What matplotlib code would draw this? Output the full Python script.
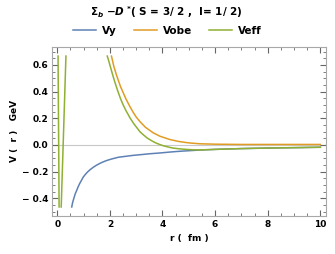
import numpy as np
import matplotlib
matplotlib.use('Agg')
import matplotlib.pyplot as plt
from matplotlib.ticker import MultipleLocator

# values (r in fm, V in GeV)
r_vy = [0.55, 0.58, 0.62, 0.68, 0.74, 0.80, 0.85, 0.92, 0.99, 1.07, 1.15, 1.25,
        1.37, 1.48, 1.6, 1.73, 1.87, 2.05, 2.32, 2.6, 2.88, 3.2, 3.5, 3.9,
        4.28, 4.6, 5.0, 5.42, 6.0, 7.0, 8.0, 9.0, 10.0]
v_vy = [-0.465, -0.435, -0.407, -0.368, -0.34, -0.311, -0.29, -0.265, -0.24, -0.22,
        -0.203, -0.185, -0.167, -0.153, -0.14, -0.128, -0.117, -0.106, -0.092,
        -0.085, -0.078, -0.072, -0.066, -0.06, -0.053, -0.048, -0.043, -0.038,
        -0.033, -0.027, -0.023, -0.020, -0.017]

r_vobe = [2.06, 2.15, 2.25, 2.4, 2.6, 2.75, 2.88, 3.0, 3.14, 3.35, 3.64, 3.9,
          4.28, 4.6, 4.91, 5.1, 5.42, 6.0, 7.0, 8.0, 9.0, 10.0]
v_vobe = [0.667, 0.59, 0.525, 0.44, 0.35, 0.292, 0.247, 0.21, 0.176, 0.133,
          0.092, 0.066, 0.041, 0.027, 0.018, 0.014, 0.009, 0.006, 0.004, 0.004,
          0.004, 0.004]

# Veff : clipped branches near r=0 separated by gaps (nan)
r_veff = [0.03, 0.07, np.nan, 0.15, 0.33, np.nan,
          1.9, 1.95, 2.0, 2.05, 2.13, 2.2, 2.3, 2.4, 2.5, 2.6, 2.76, 2.9, 3.14,
          3.25, 3.4, 3.5, 3.64, 3.75, 3.9, 4.05, 4.28, 4.4, 4.6, 4.75, 4.91,
          5.15, 5.42, 6.0, 7.0, 8.0, 9.0, 10.0]
v_veff = [0.667, -0.465, np.nan, -0.465, 0.667, np.nan,
          0.667, 0.635, 0.60, 0.565, 0.51, 0.465, 0.405, 0.35, 0.303, 0.262, 0.205,
          0.162, 0.10, 0.08, 0.055, 0.042, 0.026, 0.015, 0.003, -0.007, -0.018,
          -0.023, -0.028, -0.031, -0.033, -0.036, -0.037, -0.033, -0.027,
          -0.023, -0.020, -0.017]

names = ['Vy', 'Vobe', 'Veff']
colors = ['#5E81B5', '#E19C24', '#8FB032']
ytick_vals = [-0.4, -0.2, 0.0, 0.2, 0.4, 0.6]
ytick_labels = ['\u2212 0.4', '\u2212 0.2', '0.0', '0.2', '0.4', '0.6']

plt.rcParams['font.family'] = ['DejaVu Sans']
plt.rcParams['font.weight'] = 'bold'

fig = plt.figure(figsize=(3.35, 2.54), dpi=100)
ax = fig.add_axes([0.156, 0.151, 0.816, 0.664])

ax.axhline(0, color='#c8c8c8', lw=0.8, zorder=0)
ax.plot(r_vy, v_vy, color=colors[0], lw=1.1, label=names[0], solid_joinstyle='round')
ax.plot(r_vobe, v_vobe, color=colors[1], lw=1.1, label=names[1], solid_joinstyle='round')
ax.plot(r_veff, v_veff, color=colors[2], lw=1.1, label=names[2], solid_joinstyle='round')

ax.set_xlim(-0.19, 10.2)
ax.set_ylim(-0.53, 0.735)
ax.set_xticks([0, 2, 4, 6, 8, 10])
ax.xaxis.set_minor_locator(MultipleLocator(0.5))
ax.set_yticks(ytick_vals)
ax.set_yticklabels(ytick_labels)
ax.yaxis.set_minor_locator(MultipleLocator(0.05))

ax.tick_params(which='both', direction='in', top=True, right=True,
               labelsize=6.5, pad=3)
ax.tick_params(which='major', length=4, width=0.8, color='#666666')
ax.tick_params(which='minor', length=2.2, width=0.7, color='#808080')
for lab in ax.get_xticklabels() + ax.get_yticklabels():
    lab.set_fontweight('bold')
for s in ax.spines.values():
    s.set_color('#a8a8a8')
    s.set_linewidth(0.8)

ax.set_xlabel('r (  fm )', fontsize=6.5, fontweight='bold', labelpad=4)
ax.set_ylabel('V (  r )   GeV', fontsize=6.5, fontweight='bold', labelpad=2)

fig.text(0.495, 0.952,
         r'$\mathbf{\Sigma}_{\mathbfit{b}}\ \mathbf{-}\mathbfit{D}^{\ \mathbf{*}}$'
         + '( S = 3/ 2 ,  I= 1/ 2)',
         ha='center', va='center', fontsize=7.5, fontweight='bold')

fig.legend(loc='center', bbox_to_anchor=(0.5, 0.878), ncol=3, frameon=False,
           handlelength=2.2, columnspacing=1.6, handletextpad=0.6,
           prop={'weight': 'bold', 'size': 7.5})

fig.savefig('out.png', dpi=100)
